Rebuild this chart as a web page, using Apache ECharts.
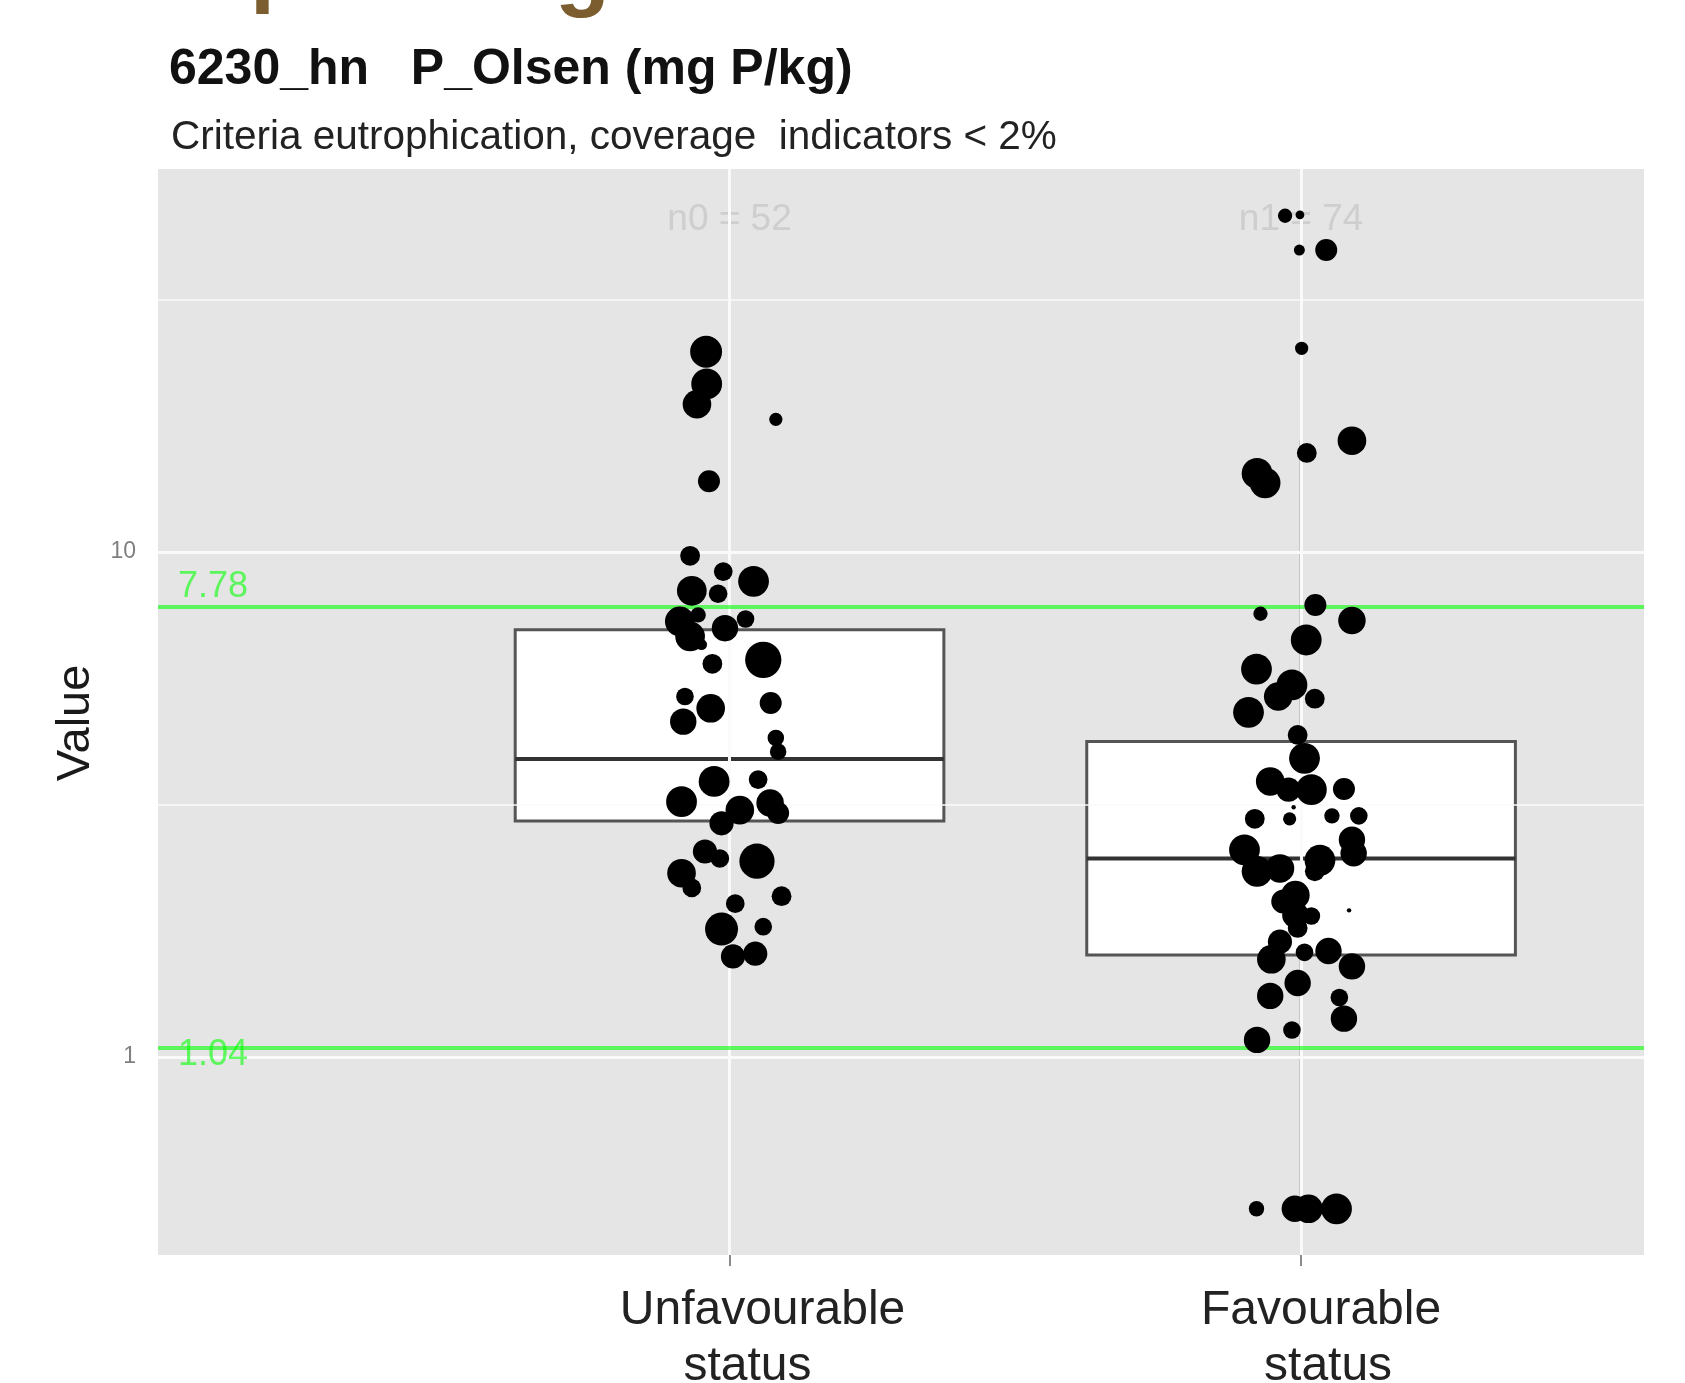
<!DOCTYPE html>
<html>
<head>
<meta charset="utf-8">
<script src="https://cdn.jsdelivr.net/npm/echarts@6/dist/echarts.min.js"></script>
<style>
  html, body { margin: 0; padding: 0; background: #fff; }
  #chart { width: 1685px; height: 1383px; }
</style>
</head>
<body>
<div id="chart"></div>
<script>
// categories on the x axis (index 0, 1)
const categories = ['Unfavourable', 'Favourable'];
const counts = [52, 74];
const thresholds = [7.78, 1.04];
const majorBreaks = [1, 10];
const minorBreaks = [3.162, 31.62];

// boxplot stats: [lower whisker, Q1, median, Q3, upper whisker]
const unfavBox = [1.58, 2.93, 3.89, 7.01, 24.9];
const favBox = [0.5, 1.59, 2.47, 4.21, 16.6];

// jittered points: horizontal jitter around the category, value, point size
const unfavJitter = [-0.041, -0.040, -0.057, 0.081, -0.036, -0.069, -0.011, 0.042, -0.066, -0.020,
  -0.087, -0.069, -0.055, -0.008, 0.028, -0.049, -0.030, 0.059, -0.078, -0.033,
  -0.081, 0.072, 0.081, 0.085, -0.027, 0.050, -0.084, 0.018, 0.071, 0.085,
  -0.014, -0.043, -0.017, 0.048, -0.084, -0.066, 0.091, 0.010, -0.014, 0.059,
  0.006, 0.045];
const unfavValue = [24.9, 21.5, 19.6, 18.3, 13.8, 9.82, 9.14, 8.74, 8.37, 8.26,
  7.28, 6.80, 7.50, 7.06, 7.36, 6.55, 6.00, 6.11, 5.17, 4.90,
  4.61, 5.02, 4.28, 4.02, 3.51, 3.54, 3.20, 3.08, 3.18, 3.04,
  2.90, 2.55, 2.47, 2.44, 2.31, 2.16, 2.08, 2.01, 1.79, 1.81,
  1.58, 1.60];
const unfavSize = [14.5, 14, 13, 6, 10, 9, 8.5, 14, 13.5, 8.5,
  13.5, 13.5, 7, 12, 8, 5, 9, 16.5, 8, 13,
  12, 10, 7.5, 7.5, 14, 8.5, 14, 13, 12.5, 10,
  11, 11, 8.5, 16, 13, 8.5, 9, 8.5, 15, 8,
  11, 11];

const favJitter = [-0.028, -0.002, -0.003, 0.044, 0.001, 0.010, 0.089, -0.077, -0.063,
  0.025, -0.071, 0.089, 0.009, -0.078, -0.016, -0.040, 0.024, -0.092, -0.006,
  0.006, -0.054, 0.018, -0.022, 0.075, -0.013, -0.081, -0.020, 0.054, 0.101,
  0.089, 0.092, -0.099, -0.077, -0.037, 0.033, 0.024, -0.010, -0.031, -0.010,
  0.018, 0.084, -0.006, -0.037, 0.006, 0.048, -0.052, 0.089, -0.006, -0.054,
  0.067, 0.075, -0.016, -0.077,
  -0.078, -0.011, 0.013, 0.062];
const favValue = [46.3, 46.5, 39.6, 39.6, 25.3, 15.7, 16.6, 14.3, 13.7,
  7.85, 7.54, 7.31, 6.69, 5.86, 5.45, 5.17, 5.12, 4.81, 4.34,
  3.90, 3.51, 3.38, 3.38, 3.39, 3.12, 2.96, 2.96, 3.00, 3.00,
  2.69, 2.53, 2.57, 2.33, 2.36, 2.45, 2.33, 2.09, 2.03, 1.91,
  1.90, 1.95, 1.80, 1.69, 1.61, 1.62, 1.56, 1.51, 1.40, 1.32,
  1.31, 1.19, 1.13, 1.08,
  0.5, 0.5, 0.5, 0.5];
const favSize = [6.5, 4, 5, 10, 6, 9, 13, 14, 14,
  10, 6.5, 12.5, 14, 14, 14, 13, 9, 14, 9,
  14, 13, 14, 11, 10, 2, 9, 6, 7, 8,
  12, 12, 14, 14, 13, 14, 9, 13, 11, 12,
  8, 2, 9, 11, 8, 12, 13, 12, 12, 12,
  8, 12, 8, 12,
  7, 12, 13, 14];

const FONT = '"Liberation Sans", Arial, sans-serif';
const green = 'rgba(0,255,0,0.6)';
const brown = '#7b5d30';
const boxWidth = 0.75;

const boxData = [[0].concat(unfavBox), [1].concat(favBox)];
const pointData = unfavJitter.map((j, i) => [0 + j, unfavValue[i], unfavSize[i]])
  .concat(favJitter.map((j, i) => [1 + j, favValue[i], favSize[i]]));

const chart = echarts.init(document.getElementById('chart'));

function renderBox(params, api) {
  const x = api.value(0);
  const lo = api.coord([x, api.value(1)]);
  const q1 = api.coord([x, api.value(2)]);
  const med = api.coord([x, api.value(3)]);
  const q3 = api.coord([x, api.value(4)]);
  const hi = api.coord([x, api.value(5)]);
  const left = api.coord([x - boxWidth / 2, api.value(3)])[0];
  const right = api.coord([x + boxWidth / 2, api.value(3)])[0];
  const whisker = { stroke: '#3a3a3a', lineWidth: 2.5 };
  return {
    type: 'group',
    children: [
      { type: 'line', shape: { x1: lo[0], y1: lo[1], x2: q1[0], y2: q1[1] }, style: whisker },
      { type: 'line', shape: { x1: q3[0], y1: q3[1], x2: hi[0], y2: hi[1] }, style: whisker },
      { type: 'rect', shape: { x: left, y: q3[1], width: right - left, height: q1[1] - q3[1] },
        style: { fill: '#fff', stroke: '#555', lineWidth: 3 } },
      { type: 'line', shape: { x1: left, y1: med[1], x2: right, y2: med[1] },
        style: { stroke: '#333', lineWidth: 4 } }
    ]
  };
}

const gridLines = majorBreaks.map(v => ({ yAxis: v, lineStyle: { width: 3 } }))
  .concat(minorBreaks.map(v => ({ yAxis: v, lineStyle: { width: 1.5 } })))
  .concat(categories.map((c, i) => ({ xAxis: i, lineStyle: { width: 3 } })));

const option = {
  animation: false,
  backgroundColor: '#fff',
  // descenders of the slide heading cut off at the top edge
  graphic: [
    { type: 'text', left: 250, top: -75, style: { text: 'p', font: 'bold 90px ' + FONT, fill: brown } },
    { type: 'text', left: 555, top: -71, style: { text: 'g', font: 'bold 90px ' + FONT, fill: brown } }
  ],
  title: [
    { text: '6230_hn   P_Olsen (mg P/kg)', left: 164, top: 40,
      textStyle: { fontFamily: FONT, fontSize: 50, fontWeight: 'bold', color: '#111' } },
    { text: 'Criteria eutrophication, coverage  indicators < 2%', left: 166, top: 112,
      textStyle: { fontFamily: FONT, fontSize: 40.5, fontWeight: 'normal', color: '#222' } }
  ],
  grid: {
    left: 158, right: 41, top: 169, bottom: 128,
    outerBoundsMode: 'none',
    show: true, backgroundColor: '#e5e5e5', borderWidth: 0
  },
  xAxis: {
    type: 'value', min: -1, max: 1.6,
    axisLine: { show: false },
    splitLine: { show: false },
    axisTick: { show: true, customValues: [0, 1], length: 11, lineStyle: { color: '#8a8a8a', width: 2 } },
    axisLabel: {
      customValues: [0, 1],
      margin: 28,
      formatter: v => v === 0
        ? '{a|' + categories[0] + '}\n{b|status}'
        : '{c|' + categories[1] + '}\n{d|status}',
      rich: {
        a: { fontFamily: FONT, fontSize: 48, color: '#222', lineHeight: 56, padding: [0, 0, 0, 66] },
        b: { fontFamily: FONT, fontSize: 48, color: '#222', lineHeight: 56, padding: [0, 0, 0, 36] },
        c: { fontFamily: FONT, fontSize: 48, color: '#222', lineHeight: 56, padding: [0, 0, 0, 40] },
        d: { fontFamily: FONT, fontSize: 48, color: '#222', lineHeight: 56, padding: [0, 0, 0, 54] }
      }
    }
  },
  yAxis: {
    type: 'log', logBase: 10, min: 0.405, max: 57.3,
    name: 'Value', nameLocation: 'middle', nameGap: 40, nameRotate: 90,
    nameTextStyle: { fontFamily: FONT, fontSize: 47, color: '#1a1a1a', padding: [0, 22, 0, 0] },
    axisLine: { show: false },
    splitLine: { show: false },
    minorSplitLine: { show: false },
    axisTick: { show: true, customValues: majorBreaks, length: 10, lineStyle: { color: '#8a8a8a', width: 2 } },
    axisLabel: { customValues: majorBreaks, margin: 22, fontFamily: FONT, fontSize: 23, color: '#7f7f7f' }
  },
  series: [
    {
      type: 'line', data: [], z: 1, silent: true,
      markLine: {
        silent: true, symbol: ['none', 'none'], animation: false,
        label: { show: false },
        lineStyle: { color: '#fafafa', type: 'solid', width: 3 },
        data: gridLines
      }
    },
    {
      type: 'custom', z: 2, renderItem: renderBox,
      encode: { x: 0, y: [1, 2, 3, 4, 5] },
      data: boxData
    },
    {
      type: 'scatter', z: 3, silent: true,
      symbol: 'circle', symbolSize: 1,
      itemStyle: { color: 'transparent' },
      label: {
        show: true, position: 'inside',
        fontFamily: FONT, fontSize: 37, color: '#c8c8c8',
        formatter: p => 'n' + p.dataIndex + ' = ' + counts[p.dataIndex]
      },
      data: [[0, 45.5], [1, 45.5]]
    },
    {
      type: 'scatter', z: 5,
      symbol: 'circle',
      symbolSize: v => v[2] * 2.2,
      itemStyle: { color: '#000', opacity: 1 },
      data: pointData
    },
    {
      type: 'line', data: [], z: 10, silent: true,
      markLine: {
        silent: true, symbol: ['none', 'none'], animation: false,
        lineStyle: { color: green, type: 'solid', width: 4 },
        label: {
          show: true, position: 'insideStartTop',
          fontFamily: FONT, fontSize: 36, color: green,
          formatter: p => p.value.toFixed(2)
        },
        data: [
          { yAxis: thresholds[0], label: { distance: [20, 2] } },
          { yAxis: thresholds[1], label: { distance: [20, -25] } }
        ]
      }
    }
  ]
};

chart.setOption(option);
</script>
</body>
</html>
